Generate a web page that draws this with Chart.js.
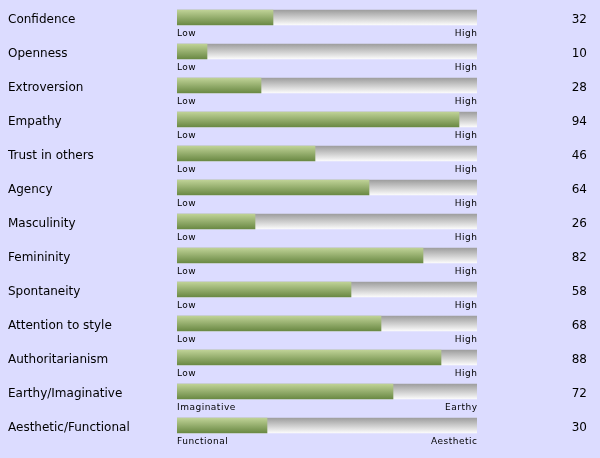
<!DOCTYPE html>
<html>
<head>
<meta charset="utf-8">
<script src="https://cdn.jsdelivr.net/npm/chart.js@4/dist/chart.umd.min.js"></script>
<style>
  html, body { margin: 0; padding: 0; background: #dcdcff; }
  #wrap { width: 600px; height: 458px; position: relative; }
</style>
</head>
<body>
<div id="wrap"><canvas id="traits"></canvas></div>
<script>
    // Données du profil
    const traits = ['Confidence', 'Openness', 'Extroversion', 'Empathy', 'Trust in others', 'Agency',
        'Masculinity', 'Femininity', 'Spontaneity', 'Attention to style', 'Authoritarianism',
        'Earthy/Imaginative', 'Aesthetic/Functional'];
    const scores = [32, 10, 28, 94, 46, 64, 26, 82, 58, 68, 88, 72, 30];
    const lowLabels = ['Low', 'Low', 'Low', 'Low', 'Low', 'Low', 'Low', 'Low', 'Low', 'Low', 'Low',
        'Imaginative', 'Functional'];
    const highLabels = ['High', 'High', 'High', 'High', 'High', 'High', 'High', 'High', 'High', 'High', 'High',
        'Earthy', 'Aesthetic'];
    const fullScale = traits.map(() => 100);

    const FONT = '"DejaVu Sans", Verdana, sans-serif';
    const BAR_H = 15;

    // Dégradé vertical pour chaque barre
    function barGradient(ctx, top, bottom) {
        const chart = ctx.chart;
        const y = chart.scales && chart.scales.y;
        if (!y) return top;
        const c = y.getPixelForValue(ctx.dataIndex);
        if (!Number.isFinite(c)) return top;
        const g = chart.ctx.createLinearGradient(0, c - BAR_H / 2, 0, c + BAR_H / 2);
        g.addColorStop(0, top);
        g.addColorStop(1, bottom);
        return g;
    }

    // Textes : noms, valeurs, bornes Low/High
    const textPlugin = {
        id: 'texts',
        afterDatasetsDraw(chart) {
            const ctx = chart.ctx;
            const y = chart.scales.y;
            const x = chart.scales.x;
            ctx.save();
            ctx.fillStyle = '#000';
            traits.forEach((t, i) => {
                const c = y.getPixelForValue(i);
                ctx.letterSpacing = '0px';
                ctx.font = '12px ' + FONT;
                ctx.textAlign = 'left';
                ctx.textBaseline = 'alphabetic';
                ctx.fillText(t, 8, c + 5.5);
                ctx.textAlign = 'right';
                ctx.fillText(String(scores[i]), 587, c + 5.5);
                ctx.font = '9px ' + FONT;
                ctx.letterSpacing = '0.5px';
                ctx.textAlign = 'left';
                ctx.fillText(lowLabels[i], x.getPixelForValue(0), c + 18.5);
                ctx.textAlign = 'right';
                ctx.fillText(highLabels[i], x.getPixelForValue(100) + 0.5, c + 18.5);
            });
            ctx.restore();
        }
    };

    new Chart(document.getElementById('traits'), {
        type: 'bar',
        data: {
            labels: traits,
            datasets: [{
                label: 'Score',
                data: scores,
                backgroundColor: ctx => barGradient(ctx, '#bfd296', '#6a8944'),
                barThickness: BAR_H,
                grouped: false,
                order: 0
            }, {
                label: 'Scale',
                data: fullScale,
                backgroundColor: ctx => barGradient(ctx, '#9e9e9e', '#fbfbfb'),
                barThickness: BAR_H,
                grouped: false,
                order: 1
            }]
        },
        options: {
            indexAxis: 'y',
            responsive: true,
            maintainAspectRatio: false,
            animation: false,
            layout: { padding: { left: 177, right: 123, top: 0.5, bottom: 15.5 } },
            scales: {
                x: { display: false, min: 0, max: 100 },
                y: { display: false, offset: true }
            },
            plugins: {
                legend: { display: false },
                tooltip: { enabled: false }
            }
        },
        plugins: [textPlugin]
    });
</script>
</body>
</html>
